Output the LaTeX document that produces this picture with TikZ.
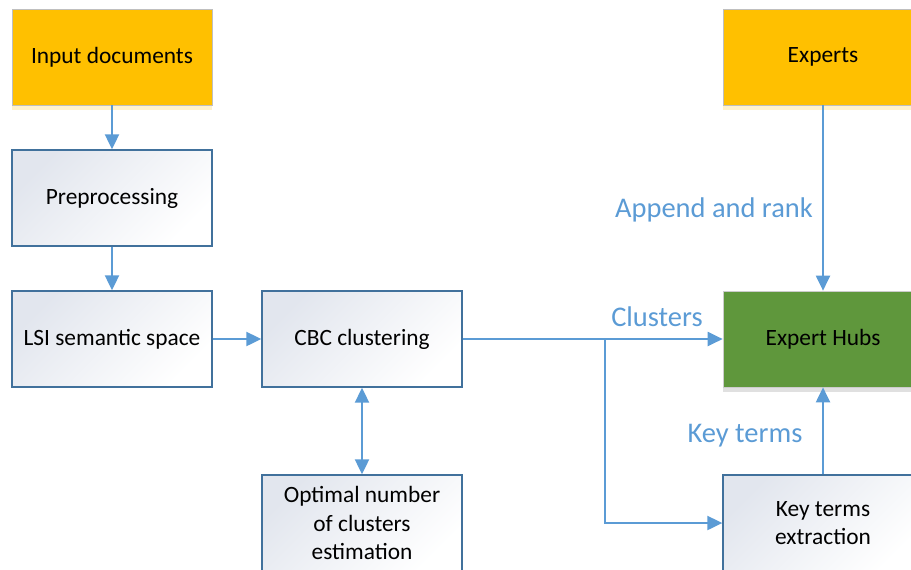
\documentclass[tikz,border=0pt]{standalone}
\usepackage{fontspec}
\setmainfont{Carlito}
\usepackage{xcolor}
\usetikzlibrary{arrows.meta,shadows}

\definecolor{flowblue}{HTML}{5B9BD5}
\definecolor{edgeblue}{HTML}{41719C}
\definecolor{amber}{HTML}{FFC000}
\definecolor{hubgreen}{RGB}{95,151,60}
\definecolor{paleblue}{RGB}{226,230,238}

\begin{document}
\begin{tikzpicture}[
  x=0.02cm, y=-0.02cm,
  box/.style={rectangle, minimum width=4cm, minimum height=1.92cm, align=center,
    font=\fontsize{13.3}{16}\selectfont, text=black},
  source/.style={box, draw=black!25, fill=amber,
    drop shadow={shadow xshift=0pt, shadow yshift=-3pt, fill=amber!40, opacity=0.5}},
  process/.style={box, draw=edgeblue, thick, top color=paleblue, bottom color=white, shading angle=45},
  hub/.style={box, draw=black!20, fill=hubgreen,
    drop shadow={shadow xshift=0pt, shadow yshift=-3pt, fill=black!30, opacity=0.4}},
  flow/.style={draw=flowblue, line width=1.2pt, -{Triangle[length=0.3cm,width=0.28cm]}},
  lbl/.style={text=flowblue, font=\fontsize{16.2}{19}\selectfont, inner sep=0pt}
]
\useasboundingbox (0,0) rectangle (911,569);
\clip (0,0) rectangle (911,569);

% left column
\node[source]  (input) at (112,57)  {Input documents};
\node[process] (prep)  at (112,198) {Preprocessing};
\node[process] (lsi)   at (112,339) {LSI semantic space};

% clustering
\node[process] (cbc)     at (362,339) {CBC clustering};
\node[process] (optimal) at (362,523) {Optimal number\\of clusters\\estimation};

% right column
\node[source]  (experts)  at (823,57)  {Experts};
\node[hub]     (hubs)     at (823,339) {Expert Hubs};
\node[process] (keyterms) at (823,523) {Key terms\\extraction};

\coordinate (split) at (605,339);

\draw[flow] (input) -- (prep);
\draw[flow] (prep) -- (lsi);
\draw[flow] (lsi) -- (cbc);
\draw[flow, {Triangle[length=0.3cm,width=0.28cm]}-{Triangle[length=0.3cm,width=0.28cm]}] (cbc) -- (optimal);
\draw[flow] (cbc) -- (hubs);
\draw[flow] (split) |- (keyterms);
\draw[flow] (keyterms) -- (hubs);
\draw[flow] (experts) -- (hubs);

% labels
\node[lbl] (append)   at (714,210) {Append and rank};
\node[lbl] (clusters) at (657,317) {Clusters};
\node[lbl] (keylbl)   at (745,436) {Key terms};
\end{tikzpicture}
\end{document}
